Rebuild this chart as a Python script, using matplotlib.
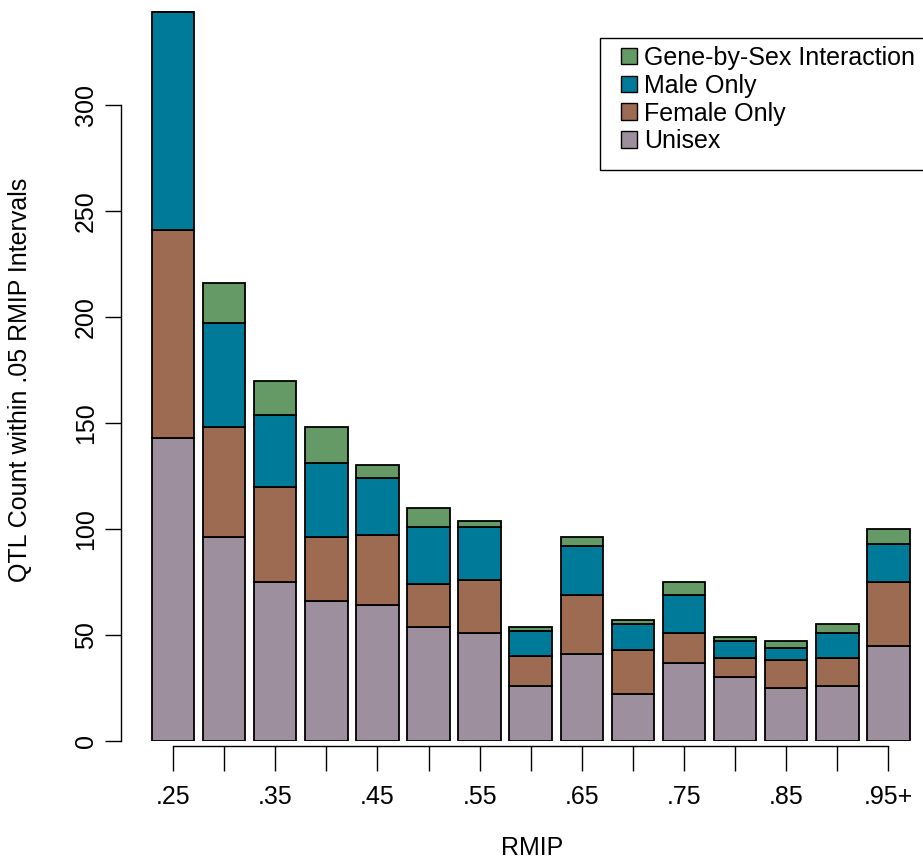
import numpy as np
import matplotlib
matplotlib.use("Agg")
import matplotlib.pyplot as plt
from matplotlib.patches import Patch, Rectangle

plt.rcParams['font.family'] = ['Liberation Sans', 'DejaVu Sans']

# QTL counts per .05 RMIP interval, stacked bottom to top
rmip_bins = [".25", ".30", ".35", ".40", ".45", ".50", ".55", ".60",
             ".65", ".70", ".75", ".80", ".85", ".90", ".95+"]
unisex = [143, 96, 75, 66, 64, 54, 51, 26, 41, 22, 37, 30, 25, 26, 45]
female_only = [98, 52, 45, 30, 33, 20, 25, 14, 28, 21, 14, 9, 13, 13, 30]
male_only = [103, 49, 34, 35, 27, 27, 25, 12, 23, 12, 18, 8, 6, 12, 18]
gxs = [0, 19, 16, 17, 6, 9, 3, 2, 4, 2, 6, 2, 3, 4, 7]

series_names = ["Unisex", "Female Only", "Male Only", "Gene-by-Sex Interaction"]
series_colors = ["#9E8F9E", "#9C6B51", "#007A99", "#659A66"]

W, H, DPI = 923, 861, 100
fig = plt.figure(figsize=(W / DPI, H / DPI), dpi=DPI)

# plot region in pixel terms: y=0 at row 741, 2.12 px per count
px_per_unit = 2.12
ax = fig.add_axes([121 / W, 120 / H, 802 / W, 741 / H])
ax.set_ylim(0, 741 / px_per_unit)
x = np.arange(len(rmip_bins))
ax.set_xlim((121 - 173) / 51.1, (923 - 173) / 51.1)

bottom = np.zeros(len(rmip_bins))
for vals, col in zip([unisex, female_only, male_only, gxs], series_colors):
    vals = np.array(vals, dtype=float)
    ax.bar(x, vals, width=0.833, bottom=bottom, color=col,
           edgecolor="black", linewidth=1.3)
    bottom += vals

for s in ["top", "right"]:
    ax.spines[s].set_visible(False)
ax.spines["left"].set_bounds(0, 300)
ax.spines["bottom"].set_bounds(0, len(rmip_bins) - 1)
ax.spines["bottom"].set_position(("outward", 3.6))
ax.spines["left"].set_linewidth(1.0)
ax.spines["bottom"].set_linewidth(1.0)

fs = 18
ax.set_yticks(np.arange(0, 301, 50))
ax.set_yticklabels([str(v) for v in range(0, 301, 50)], rotation=90,
                   va="center", fontsize=fs)
ax.tick_params(axis="y", direction="out", length=11.5, width=1.0, pad=5)

ax.set_xticks(x)
ax.set_xticklabels([lab if i % 2 == 0 else "" for i, lab in enumerate(rmip_bins)],
                   fontsize=fs)
ax.tick_params(axis="x", direction="out", length=18, width=1.0, pad=10)

fig.text(532 / W, 1 - 848 / H, "RMIP", fontsize=fs, ha="center", va="center")
fig.text(20 / W, 1 - 380 / H, "QTL Count within .05 RMIP Intervals",
         fontsize=fs, ha="center", va="center", rotation=90)

# legend box runs past the right edge of the figure
fig.add_artist(Rectangle((600 / W, 1 - 170 / H), 340 / W, 132 / H,
                         transform=fig.transFigure, facecolor="white",
                         edgecolor="black", linewidth=1.0, clip_on=False,
                         zorder=4))
handles = [Patch(facecolor=c, edgecolor="black", linewidth=1.0)
           for c in series_colors[::-1]]
leg = fig.legend(handles, series_names[::-1], loc="upper left",
                 bbox_to_anchor=(621 / W, 1 - 46 / H),
                 fontsize=fs, frameon=False,
                 handlelength=0.64, handleheight=0.64, handletextpad=0.3,
                 labelspacing=0.15, borderpad=0, borderaxespad=0)
leg.set_zorder(5)

fig.savefig("out.png", dpi=DPI)
